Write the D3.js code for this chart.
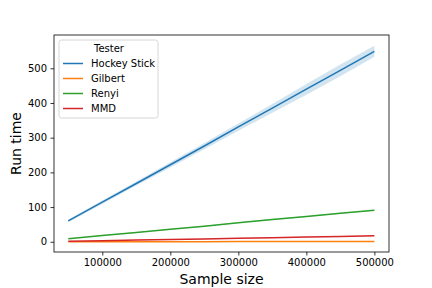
<!DOCTYPE html>
<html>
<head>
<meta charset="utf-8">
<script src="https://cdn.jsdelivr.net/npm/d3@7"></script>
<style>
  body { margin: 0; background: #fff; }
  svg { display: block; font-family: "DejaVu Sans", sans-serif; }
</style>
</head>
<body>
<div id="root"></div>
<script>
// sample sizes on the x axis
const sampleSizes = [50000, 100000, 150000, 200000, 250000, 300000, 350000, 400000, 450000, 500000];

// mean run time per tester, with the confidence band
const hockeyStick = [60, 114, 168, 222, 276, 331, 385, 440, 494, 549];
const hockeyLow = [56, 109, 162, 214, 267, 320, 372, 424, 477, 533];
const hockeyHigh = [64, 119, 174, 229, 285, 341, 397, 455, 511, 565];

const gilbert = [0.2, 0.3, 0.3, 0.4, 0.4, 0.5, 0.5, 0.6, 0.6, 0.7];
const renyi = [9, 18, 27, 36, 45, 55, 64, 73, 82, 91];
const renyiLow = [8.5, 17.3, 26.2, 35, 44, 53.8, 62.7, 71.6, 80.5, 89.5];
const renyiHigh = [9.5, 18.7, 27.8, 37, 46, 56.2, 65.3, 74.4, 83.5, 92.5];
const mmd = [1.2, 3, 4.8, 6.5, 8.3, 10, 11.8, 13.5, 15.3, 17];
const mmdLow = [0.8, 2.4, 4.1, 5.7, 7.4, 9, 10.7, 12.3, 14, 15.6];
const mmdHigh = [1.6, 3.6, 5.5, 7.3, 9.2, 11, 12.9, 14.7, 16.6, 18.4];

const xTicks = [100000, 200000, 300000, 400000, 500000];
const yTicks = [0, 100, 200, 300, 400, 500];

const series = [
  { name: "Hockey Stick", color: "#1f77b4", vals: hockeyStick, lo: hockeyLow, hi: hockeyHigh },
  { name: "Gilbert", color: "#ff7f0e", vals: gilbert, lo: null, hi: null },
  { name: "Renyi", color: "#2ca02c", vals: renyi, lo: renyiLow, hi: renyiHigh },
  { name: "MMD", color: "#d62728", vals: mmd, lo: mmdLow, hi: mmdHigh }
];

const width = 432;
const height = 288;
const m = { left: 54, right: 389, top: 35, bottom: 252 };

const xScale = d3.scaleLinear().domain([29000, 521500]).range([m.left, m.right]);
const yScale = d3.scaleLinear().domain([-29.5, 596]).range([m.bottom, m.top]);

const svg = d3.select("#root").append("svg")
  .attr("width", width)
  .attr("height", height);

// bands first, then lines on top
series.forEach((s) => {
  if (!s.lo) return;
  const area = d3.area()
    .x((d, i) => xScale(sampleSizes[i]))
    .y0((d, i) => yScale(s.lo[i]))
    .y1((d, i) => yScale(s.hi[i]));
  svg.append("path")
    .datum(s.vals)
    .attr("d", area)
    .attr("fill", s.color)
    .attr("fill-opacity", 0.2);
});

series.forEach((s) => {
  const line = d3.line()
    .x((d, i) => xScale(sampleSizes[i]))
    .y((d) => yScale(d));
  svg.append("path")
    .datum(s.vals)
    .attr("d", line)
    .attr("fill", "none")
    .attr("stroke", s.color)
    .attr("stroke-width", 1.5);
});

// axes
const xAxis = d3.axisBottom(xScale).tickValues(xTicks).tickSize(3.5).tickPadding(3.5).tickFormat(d3.format("d"));
const yAxis = d3.axisLeft(yScale).tickValues(yTicks).tickSize(3.5).tickPadding(3.5).tickFormat(d3.format("d"));

const gx = svg.append("g").attr("transform", `translate(0, ${m.bottom})`).call(xAxis);
const gy = svg.append("g").attr("transform", `translate(${m.left}, 0)`).call(yAxis);
[gx, gy].forEach((g) => {
  g.select(".domain").remove();
  g.selectAll("line").attr("stroke", "#000").attr("stroke-width", 0.8);
  g.selectAll("text").attr("fill", "#000").style("font-size", "10px").style("font-family", "DejaVu Sans");
});

// frame
svg.append("rect")
  .attr("x", m.left).attr("y", m.top)
  .attr("width", m.right - m.left).attr("height", m.bottom - m.top)
  .attr("fill", "none").attr("stroke", "#000").attr("stroke-width", 0.8);

// axis labels
svg.append("text")
  .attr("x", (m.left + m.right) / 2).attr("y", 284)
  .attr("text-anchor", "middle")
  .style("font-size", "14px")
  .text("Sample size");

svg.append("text")
  .attr("transform", `translate(21, ${(m.top + m.bottom) / 2}) rotate(-90)`)
  .attr("text-anchor", "middle")
  .style("font-size", "14px")
  .text("Run time");

// legend
const lg = svg.append("g").attr("transform", "translate(59, 40)");
lg.append("rect")
  .attr("width", 99).attr("height", 78)
  .attr("rx", 2.5)
  .attr("fill", "#fff").attr("fill-opacity", 0.8)
  .attr("stroke", "#ccc").attr("stroke-width", 0.8);
lg.append("text")
  .attr("x", 50).attr("y", 12)
  .attr("text-anchor", "middle")
  .style("font-size", "10px")
  .text("Tester");
series.forEach((s, i) => {
  const yy = 23.5 + i * 15;
  lg.append("line")
    .attr("x1", 4).attr("x2", 24)
    .attr("y1", yy).attr("y2", yy)
    .attr("stroke", s.color).attr("stroke-width", 1.5);
  lg.append("text")
    .attr("x", 32).attr("y", yy + 3.5)
    .style("font-size", "10px")
    .text(s.name);
});
</script>
</body>
</html>
